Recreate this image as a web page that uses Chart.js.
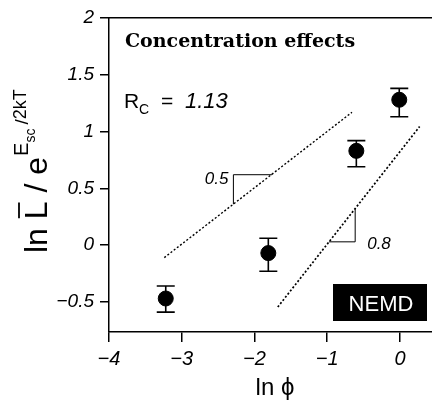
<!DOCTYPE html>
<html>
<head>
<meta charset="utf-8">
<script src="https://cdn.jsdelivr.net/npm/chart.js@4.4.0/dist/chart.umd.min.js"></script>
<style>
html, body { margin: 0; padding: 0; background: #fff; }
</style>
</head>
<body>
<canvas id="canvas" width="432" height="407"></canvas>
<script>
// data
var lnPhi = [-3.22, -1.81, -0.60, -0.01];
var lnL = [-0.47, -0.07, 0.83, 1.28];
var errLo = [-0.59, -0.23, 0.69, 1.13];
var errHi = [-0.36, 0.06, 0.92, 1.38];
var halfLineX = [-3.24, -0.66];
var halfLineY = [-0.11, 1.17];
var eightLineX = [-1.68, 0.27];
var eightLineY = [-0.545, 1.044];
var halfTriX = [-2.29, -2.29, -1.76];
var halfTriY = [0.36, 0.62, 0.62];
var eightTriX = [-0.976, -0.616, -0.616];
var eightTriY = [0.029, 0.029, 0.322];
var xTicks = [-4, -3, -2, -1, 0];
var yTicks = [-0.5, 0, 0.5, 1, 1.5, 2];

function pts(xs, ys) {
    return xs.map(function(x, i) { return {x: x, y: ys[i]}; });
}
function minus(v) {
    return String(v).replace('-', '\u2212');
}

var sans = '"Liberation Sans", Arial, sans-serif';

var extras = {
    id: 'extras',
    afterDatasetsDraw: function(chart) {
        var ctx = chart.ctx;
        var xs = chart.scales.x, ys = chart.scales.y;
        ctx.save();
        // error bars
        ctx.strokeStyle = '#000';
        ctx.lineWidth = 1.6;
        for (var i = 0; i < lnPhi.length; i++) {
            var px = xs.getPixelForValue(lnPhi[i]);
            var lo = ys.getPixelForValue(errLo[i]);
            var hi = ys.getPixelForValue(errHi[i]);
            ctx.beginPath();
            ctx.moveTo(px, lo); ctx.lineTo(px, hi);
            ctx.moveTo(px - 9, lo); ctx.lineTo(px + 9, lo);
            ctx.moveTo(px - 9, hi); ctx.lineTo(px + 9, hi);
            ctx.stroke();
        }
        // slope labels
        ctx.fillStyle = '#000';
        ctx.font = 'italic 17px ' + sans;
        ctx.textBaseline = 'alphabetic';
        ctx.textAlign = 'right';
        ctx.fillText('0.5', xs.getPixelForValue(halfTriX[0]) - 5, ys.getPixelForValue(halfTriY[1]) + 9);
        ctx.textAlign = 'left';
        ctx.fillText('0.8', xs.getPixelForValue(eightTriX[2]) + 12, ys.getPixelForValue(eightTriY[0]) + 7);

        // title
        ctx.font = 'bold 19px "DejaVu Serif", serif';
        ctx.fillText('Concentration effects', 125, 47);

        // R_C = 1.13
        ctx.font = '21px ' + sans;
        ctx.fillText('R', 124, 108);
        ctx.font = '14px ' + sans;
        ctx.fillText('C', 139, 114);
        ctx.font = '21px ' + sans;
        ctx.fillText('=', 161, 108);
        ctx.font = 'italic 22px ' + sans;
        ctx.fillText('1.13', 185, 108);

        // NEMD box
        ctx.fillStyle = '#000';
        ctx.fillRect(333, 284, 94, 37);
        ctx.fillStyle = '#fff';
        ctx.font = '22px ' + sans;
        ctx.textAlign = 'center';
        ctx.fillText('NEMD', 381, 311);

        // x title
        ctx.fillStyle = '#000';
        ctx.font = '24px ' + sans;
        ctx.fillText('ln \u03D5', 275, 395);

        // y title, rotated
        ctx.translate(47, 253);
        ctx.rotate(-Math.PI / 2);
        ctx.textAlign = 'left';
        var x = 0;
        ctx.font = '32px ' + sans;
        ctx.fillText('ln ', x, 0);
        x += ctx.measureText('ln ').width;
        var wl = ctx.measureText('L').width;
        ctx.fillText('L', x, 0);
        ctx.lineWidth = 1.8;
        ctx.beginPath();
        ctx.moveTo(x + 1, -28); ctx.lineTo(x + wl - 1, -28);
        ctx.stroke();
        x += wl;
        ctx.fillText(' / e', x, 0);
        x += ctx.measureText(' / e').width + 1;
        ctx.font = '20px ' + sans;
        ctx.fillText('E', x, -19);
        x += ctx.measureText('E').width;
        ctx.font = '14px ' + sans;
        ctx.fillText('sc', x, -12);
        x += ctx.measureText('sc').width + 4;
        ctx.font = '19px ' + sans;
        ctx.fillText('/', x, -19);
        x += ctx.measureText('/').width;
        ctx.font = '18px ' + sans;
        ctx.fillText('2kT', x, -21);
        ctx.restore();
    }
};

function noPad(s) {
    s.paddingLeft = 0; s.paddingRight = 0;
    s.paddingTop = 0; s.paddingBottom = 0;
}

var ctx = document.getElementById('canvas').getContext('2d');
var myChart = new Chart(ctx, {
    type: 'scatter',
    data: {
        datasets: [{
            data: pts(lnPhi, lnL),
            backgroundColor: '#000',
            borderColor: '#000',
            pointRadius: 7.5,
            pointHoverRadius: 7.5
        },
        {
            type: 'line',
            data: pts(halfLineX, halfLineY),
            borderColor: '#000',
            borderWidth: 1.4,
            borderDash: [2, 2],
            pointRadius: 0,
            fill: false
        },
        {
            type: 'line',
            data: pts(eightLineX, eightLineY),
            borderColor: '#000',
            borderWidth: 1.7,
            borderDash: [2, 2],
            pointRadius: 0,
            fill: false
        },
        {
            type: 'line',
            data: pts(halfTriX, halfTriY),
            borderColor: '#000',
            borderWidth: 1,
            pointRadius: 0,
            fill: false
        },
        {
            type: 'line',
            data: pts(eightTriX, eightTriY),
            borderColor: '#000',
            borderWidth: 1,
            pointRadius: 0,
            fill: false
        }]
    },
    options: {
        responsive: false,
        animation: false,
        events: [],
        layout: { padding: 0, autoPadding: false },
        plugins: {
            legend: { display: false },
            tooltip: { enabled: false }
        },
        scales: {
            x: {
                type: 'linear',
                min: -4,
                max: 0.44,
                afterBuildTicks: function(s) { s.ticks = xTicks.map(function(v) { return {value: v}; }); },
                afterFit: function(s) { s.height = 75; noPad(s); },
                grid: { drawOnChartArea: false, drawTicks: true, tickLength: 10, color: '#000', lineWidth: 1.5 },
                border: { display: true, color: '#000', width: 1.5 },
                ticks: {
                    color: '#000',
                    padding: 5,
                    maxRotation: 0,
                    font: { family: sans, size: 20, style: 'italic' },
                    callback: function(v) { return minus(v); }
                }
            },
            x2: {
                type: 'linear',
                position: 'top',
                min: -4,
                max: 0.44,
                afterFit: function(s) { s.height = 18; noPad(s); },
                grid: { drawOnChartArea: false, drawTicks: false },
                border: { display: true, color: '#000', width: 1.5 },
                ticks: { display: false }
            },
            y: {
                type: 'linear',
                min: -0.765,
                max: 2,
                afterBuildTicks: function(s) { s.ticks = yTicks.map(function(v) { return {value: v}; }); },
                afterFit: function(s) { s.width = 109; noPad(s); },
                grid: { drawOnChartArea: false, drawTicks: true, tickLength: 9, color: '#000', lineWidth: 1.5 },
                border: { display: true, color: '#000', width: 1.5 },
                ticks: {
                    color: '#000',
                    padding: 6,
                    font: { family: sans, size: 19, style: 'italic' },
                    callback: function(v) { return minus(v); }
                }
            }
        }
    },
    plugins: [extras]
});
</script>
</body>
</html>
